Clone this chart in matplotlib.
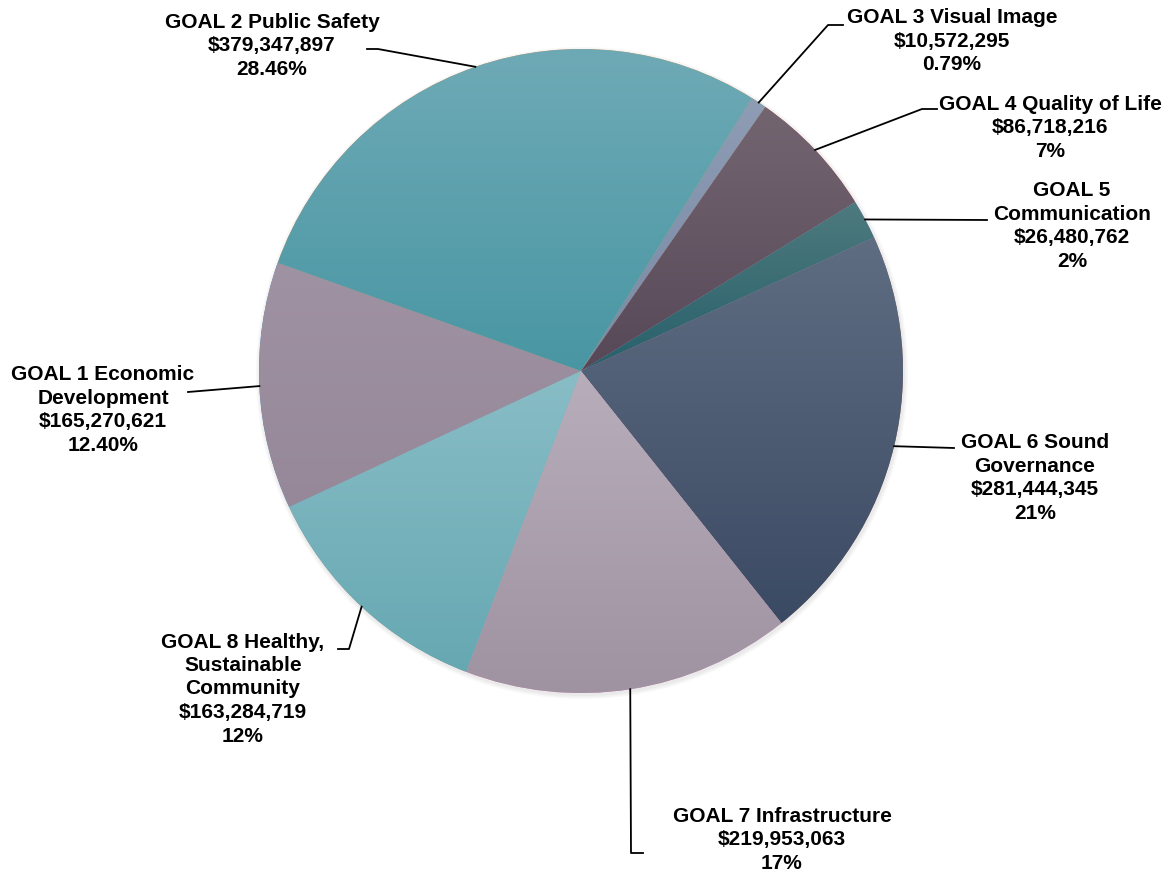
import matplotlib.pyplot as plt
import matplotlib.colors as mcolors
import numpy as np

goals = ["GOAL 1 Economic\nDevelopment", "GOAL 2 Public Safety", "GOAL 3 Visual Image",
         "GOAL 4 Quality of Life", "GOAL 5\nCommunication", "GOAL 6 Sound\nGovernance",
         "GOAL 7 Infrastructure", "GOAL 8 Healthy,\nSustainable\nCommunity"]
amounts = [165270621, 379347897, 10572295, 86718216, 26480762, 281444345, 219953063, 163284719]
pct_labels = ["12.40%", "28.46%", "0.79%", "7%", "2%", "21%", "17%", "12%"]

# gradient colours per slice (top, bottom)
top_colors = ["#9f92a2", "#6eaab6", "#8e9cb4", "#736570", "#4d7a7e", "#5f6d82", "#b8aebb", "#89bdc6"]
bottom_colors = ["#968899", "#4996a3", "#7a8aa6", "#574858", "#28606a", "#3b4a63", "#9f92a1", "#66a8b2"]

W, H = 1172, 875
cx, cy, R = 581, H - 371, 322


def P(x, y):
    # pixel coords (y down) -> data coords (y up)
    return x, H - y


# label centres and leader elbows, in pixel coords
label_pos = [(103, 410), (272, 46), (952, 41), (1050, 128), (1072, 226), (1035, 478), (782, 840), (243, 689)]
leader_pts = [
    [(188, 392)],
    [(378, 49), (367, 49)],
    [(828, 25), (843, 25)],
    [(922, 109), (937, 109)],
    [(987, 220)],
    [(954, 448)],
    [(631, 853), (643, 853)],
    [(349, 649), (338, 649)],
]

fig = plt.figure(figsize=(W / 100, H / 100), dpi=100)
ax = fig.add_axes([0, 0, 1, 1])

# soft shadow
for i, a in enumerate([0.05, 0.05, 0.06]):
    ax.add_patch(plt.Circle((cx + 1, cy - 2), R + 4 - i * 1.5, color="#808080", alpha=a, lw=0, zorder=0))

wedges, _ = ax.pie(amounts, center=(cx, cy), radius=R, startangle=205, counterclock=False,
                   frame=True, wedgeprops=dict(linewidth=0.4, edgecolor="#ffffff40"))

for i, w in enumerate(wedges):
    th = np.radians(np.linspace(w.theta1, w.theta2, 200))
    xs = np.concatenate([[cx], cx + R * np.cos(th)])
    ys = np.concatenate([[cy], cy + R * np.sin(th)])
    c1 = np.array(mcolors.to_rgb(top_colors[i]))
    c2 = np.array(mcolors.to_rgb(bottom_colors[i]))
    t = np.linspace(0, 1, 256)[:, None]
    grad = (c1 * (1 - t) + c2 * t)[:, None, :]
    im = ax.imshow(grad, extent=[xs.min(), xs.max(), ys.min(), ys.max()], aspect="auto",
                   origin="upper", zorder=2, interpolation="bilinear")
    im.set_clip_path(w)

    mid = np.radians((w.theta1 + w.theta2) / 2)
    anchor = (cx + R * np.cos(mid), cy + R * np.sin(mid))
    pts = [anchor] + [P(*p) for p in leader_pts[i]]
    ax.plot([p[0] for p in pts], [p[1] for p in pts], color="black", lw=1.3, zorder=3)

    txt = f"{goals[i]}\n${amounts[i]:,}\n{pct_labels[i]}"
    lx, ly = P(*label_pos[i])
    ax.text(lx, ly, txt, ha="center", va="center", multialignment="center",
            fontsize=15, fontweight="bold", family="Liberation Sans", linespacing=1.3, zorder=4)

ax.set_xlim(0, W)
ax.set_ylim(0, H)
ax.axis("off")
fig.savefig("out.png", dpi=100)
